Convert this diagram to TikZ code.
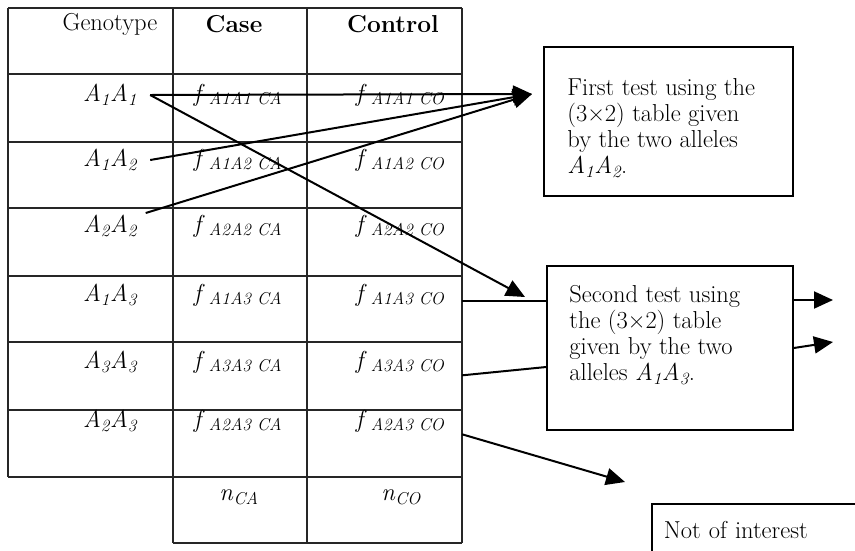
\documentclass[tikz,border=0pt]{standalone}
\usepackage{fontspec}
\usetikzlibrary{arrows.meta}

\newcommand{\gen}[2]{\textit{A\textsubscript{#1}A\textsubscript{#2}}}
\newcommand{\freq}[3]{\textit{f}\,\textsubscript{\itshape A#1A#2 #3}}

\tikzset{
  big/.style={font=\fontsize{24.5}{26}\selectfont},
  cell/.style={big, inner sep=2pt},
  testbox/.style={draw, line width=1.6pt},
  testtext/.style={big, align=left, inner sep=0pt, anchor=north west},
  arr/.style={line width=2pt, -{Triangle[length=19pt,width=17pt]}},
  link/.style={line width=2pt},
}

\begin{document}
\begin{tikzpicture}[x=1pt, y=-1pt]
    \useasboundingbox (0,0) rectangle (855,550);
    \clip (0,0) rectangle (855,550);

    % Dibuja la tabla
    \begin{scope}[line width=1.6pt, black!85]
      \foreach \y in {8,74,142,208,276,342,410,477}
        \draw (8,\y) -- (462,\y);
      \draw (8,8) -- (8,477);
      \foreach \x in {173,307,462}
        \draw (\x,8) -- (\x,543);
      \draw (173,543) -- (462,543);
    \end{scope}

    % Encabezados
    \node[cell] (hgeno) at (110,24) {Genotype};
    \node[cell] (hcase) at (234,24) {\bfseries Case};
    \node[cell] (hctrl) at (393,24) {\bfseries Control};

    % Filas de genotipos
    \foreach \y/\p/\q [count=\i] in {95/1/1,160/1/2,226/2/2,295/1/3,362/3/3,421/2/3} {
      \node[cell, minimum width=80pt] (g\i) at (110,\y) {\gen{\p}{\q}};
      \node[cell] (ca\i) at (238,\y) {\freq{\p}{\q}{CA}};
      \node[cell, minimum width=124pt] (co\i) at (400,\y) {\freq{\p}{\q}{CO}};
    }

    % Totales
    \node[cell] (nca) at (239,497) {\textit{n}\textsubscript{\itshape CA}};
    \node[cell] (nco) at (401,497) {\textit{n}\textsubscript{\itshape CO}};

    % Cajas de los tests
    \node[testbox, minimum width=249pt, minimum height=149pt] (first) at (668.5,121.5) {};
    \node[testtext] (firsttext) at ([xshift=24pt,yshift=-32pt]first.north west)
      {First test using the\\ (3×2) table given\\ by the two alleles\\ \gen{1}{2}.};
    \node[testbox, minimum width=246pt, minimum height=164pt] (second) at (670,348) {};
    \node[testtext] (secondtext) at ([xshift=23pt,yshift=-20pt]second.north west)
      {Second test using\\ the (3×2) table\\ given by the two\\ alleles \gen{1}{3}.};
    \node[testbox, big, anchor=north west, inner xsep=12pt, inner ysep=17pt,
          text width=240pt, align=left] (rest) at (651,503) {Not of interest};

    % Puntas de las flechas
    \coordinate (in1) at (532,94);
    \coordinate (in2) at (525,297);
    \coordinate (in3) at (625,482);
    \coordinate (out1) at (833,300);
    \coordinate (out2) at (833,342);

    % Flechas
    \draw[arr] (g1.east) -- (in1);
    \draw[arr] (g2.east) -- (in1);
    \draw[arr] (g3.20) -- (in1);
    \draw[arr] (g1.east) -- (in2);
    \draw[link] ([yshift=-6pt]co4.east) -- ([yshift=-6pt]co4.east -| second.west);
    \draw[link] (co5.south east) -- ([yshift=-19pt]second.west);
    \draw[arr] (co6.south east) -- (in3);
    \draw[arr] (out1 -| second.east) -- (out1);
    \draw[arr] (second.east) -- (out2);
\end{tikzpicture}
\end{document}
